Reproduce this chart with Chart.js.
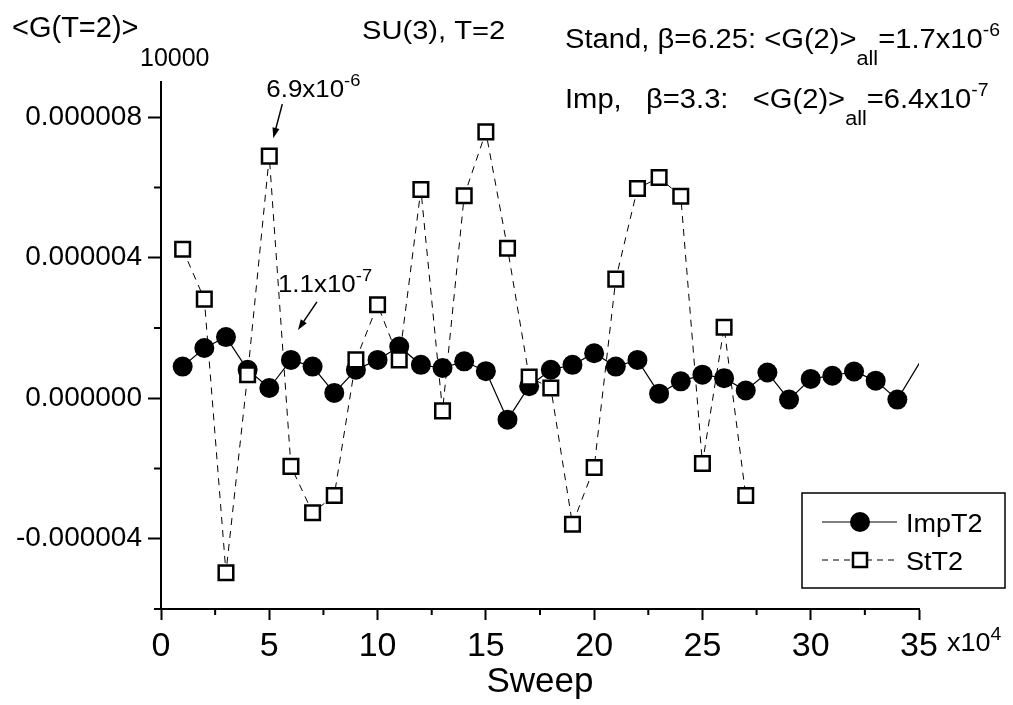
<!DOCTYPE html>
<html>
<head>
<meta charset="utf-8">
<title>G(T=2) vs sweep</title>
<script src="https://cdn.jsdelivr.net/npm/chart.js@4.4.1/dist/chart.umd.min.js"></script>
<style>
  html, body { margin: 0; padding: 0; background: #fff; }
  #wrap { width: 1013px; height: 705px; position: relative; }
</style>
</head>
<body>
<div id="wrap"><canvas id="chart" width="1013" height="705"></canvas></div>
<script>
// sweep numbers, in units of 10^4
const impSweeps = [1, 2, 3, 4, 5, 6, 7, 8, 9, 10, 11, 12, 13, 14, 15, 16, 17,
  18, 19, 20, 21, 22, 23, 24, 25, 26, 27, 28, 29, 30, 31, 32, 33, 34, 36];
const impT2 = [0.90e-6, 1.43e-6, 1.74e-6, 0.81e-6, 0.29e-6, 1.09e-6, 0.90e-6,
  0.15e-6, 0.81e-6, 1.09e-6, 1.47e-6, 0.95e-6, 0.86e-6, 1.05e-6, 0.77e-6,
  -0.61e-6, 0.34e-6, 0.81e-6, 0.95e-6, 1.28e-6, 0.90e-6, 1.09e-6, 0.13e-6,
  0.48e-6, 0.67e-6, 0.57e-6, 0.22e-6, 0.73e-6, -0.04e-6, 0.55e-6, 0.64e-6,
  0.76e-6, 0.50e-6, -0.04e-6, 2.0e-6];

const stSweeps = [1, 2, 3, 4, 5, 6, 7, 8, 9, 10, 11, 12, 13, 14, 15, 16, 17,
  18, 19, 20, 21, 22, 23, 24, 25, 26, 27];
const stT2 = [4.24e-6, 2.82e-6, -4.97e-6, 0.67e-6, 6.89e-6, -1.94e-6, -3.26e-6,
  -2.77e-6, 1.09e-6, 2.66e-6, 1.09e-6, 5.94e-6, -0.36e-6, 5.76e-6, 7.58e-6,
  4.27e-6, 0.60e-6, 0.29e-6, -3.59e-6, -1.97e-6, 3.39e-6, 5.97e-6, 6.28e-6,
  5.75e-6, -1.86e-6, 2.02e-6, -2.77e-6];

const xTickLabels = ['0', '5', '10', '15', '20', '25', '30', '35'];
const yTickLabels = ['-0.000004', '0.000000', '0.000004', '0.000008'];

const SANS = '"Liberation Sans", Arial, sans-serif';

/**
 * Draw a run of text pieces (normal / sub / sup) starting at x, y baseline
 */
function drawRich(ctx, x, y, parts, sx) {
  ctx.save();
  ctx.translate(x, y);
  ctx.scale(sx || 1, 1);
  ctx.fillStyle = '#000';
  ctx.textBaseline = 'alphabetic';
  ctx.textAlign = 'left';
  let cx = 0;
  parts.forEach(p => {
    ctx.font = `${p.size}px ${SANS}`;
    ctx.fillText(p.t, cx, p.dy || 0);
    cx += ctx.measureText(p.t).width;
  });
  ctx.restore();
}

function arrow(ctx, x1, y1, x2, y2) {
  const ang = Math.atan2(y2 - y1, x2 - x1);
  const head = 11;
  ctx.save();
  ctx.strokeStyle = '#000';
  ctx.fillStyle = '#000';
  ctx.lineWidth = 1.5;
  ctx.beginPath();
  ctx.moveTo(x1, y1);
  ctx.lineTo(x2 - Math.cos(ang) * head * 0.8, y2 - Math.sin(ang) * head * 0.8);
  ctx.stroke();
  ctx.beginPath();
  ctx.moveTo(x2, y2);
  ctx.lineTo(x2 - head * Math.cos(ang - 0.33), y2 - head * Math.sin(ang - 0.33));
  ctx.lineTo(x2 - head * Math.cos(ang + 0.33), y2 - head * Math.sin(ang + 0.33));
  ctx.closePath();
  ctx.fill();
  ctx.restore();
}

// texts, arrows, minor ticks and the legend box
const decorations = {
  id: 'decorations',
  afterDraw(chart) {
    const ctx = chart.ctx;
    const xs = chart.scales.x;
    const ys = chart.scales.y;
    const area = chart.chartArea;

    // minor ticks
    ctx.save();
    ctx.strokeStyle = '#000';
    ctx.lineWidth = 2;
    ctx.beginPath();
    for (let v = 2.5; v < 35; v += 5) {
      const px = xs.getPixelForValue(v);
      ctx.moveTo(px, area.bottom);
      ctx.lineTo(px, area.bottom + 6);
    }
    for (let v = -6e-6; v < 9e-6; v += 4e-6) {
      const py = ys.getPixelForValue(v);
      ctx.moveTo(area.left, py);
      ctx.lineTo(area.left - 7, py);
    }
    ctx.stroke();
    ctx.restore();

    // header texts
    drawRich(ctx, 12, 37, [{ t: '<G(T=2)>', size: 29 }]);
    drawRich(ctx, 140, 66, [{ t: '10000', size: 25 }]);
    drawRich(ctx, 362, 39, [{ t: 'SU(3), T=2', size: 26 }], 1.12);
    drawRich(ctx, 565, 48, [
      { t: 'Stand, \u03b2=6.25: <G(2)>', size: 27 },
      { t: 'all', size: 20, dy: 17 },
      { t: '=1.7x10', size: 27 },
      { t: '-6', size: 18, dy: -12 }
    ], 1.08);
    drawRich(ctx, 565, 108, [
      { t: 'Imp,   \u03b2=3.3:   <G(2)>', size: 27 },
      { t: 'all', size: 20, dy: 17 },
      { t: '=6.4x10', size: 27 },
      { t: '-7', size: 18, dy: -12 }
    ], 1.08);

    // x axis multiplier
    drawRich(ctx, 947, 651, [
      { t: 'x10', size: 25 },
      { t: '4', size: 18, dy: -11 }
    ], 1.08);

    // annotation for the StT2 peak
    const p5x = xs.getPixelForValue(stSweeps[4]);
    const p5y = ys.getPixelForValue(stT2[4]);
    drawRich(ctx, p5x - 3, p5y - 59, [
      { t: '6.9x10', size: 24 },
      { t: '-6', size: 17, dy: -11 }
    ], 1.08);
    arrow(ctx, p5x + 13, p5y - 52, p5x + 4, p5y - 18);

    // annotation near the ImpT2 point
    const p6x = xs.getPixelForValue(impSweeps[5]);
    const p6y = ys.getPixelForValue(impT2[5]);
    drawRich(ctx, p6x - 13, p6y - 68, [
      { t: '1.1x10', size: 24 },
      { t: '-7', size: 17, dy: -11 }
    ], 1.08);
    arrow(ctx, p6x + 26, p6y - 58, p6x + 7, p6y - 30);

    // legend
    ctx.save();
    ctx.strokeStyle = '#000';
    ctx.lineWidth = 1.5;
    ctx.strokeRect(802, 493, 203, 95);
    ctx.lineWidth = 1;
    ctx.beginPath();
    ctx.moveTo(822, 522);
    ctx.lineTo(897, 522);
    ctx.stroke();
    ctx.beginPath();
    ctx.arc(860, 522, 10, 0, Math.PI * 2);
    ctx.fillStyle = '#000';
    ctx.fill();
    ctx.setLineDash([6, 5]);
    ctx.beginPath();
    ctx.moveTo(822, 560);
    ctx.lineTo(897, 560);
    ctx.stroke();
    ctx.setLineDash([]);
    ctx.fillStyle = '#fff';
    ctx.fillRect(853, 553, 14, 14);
    ctx.lineWidth = 2.5;
    ctx.strokeRect(853, 553, 14, 14);
    ctx.restore();
    drawRich(ctx, 906, 532, [{ t: 'ImpT2', size: 26 }], 1.04);
    drawRich(ctx, 906, 570, [{ t: 'StT2', size: 26 }], 1.04);
  }
};

const impPoints = impSweeps.map((s, i) => ({ x: s, y: impT2[i] }));
const stPoints = stSweeps.map((s, i) => ({ x: s, y: stT2[i] }));

new Chart(document.getElementById('chart'), {
  type: 'line',
  data: {
    datasets: [
      {
        label: 'ImpT2',
        data: impPoints,
        order: 1,
        borderColor: '#000',
        borderWidth: 1.2,
        backgroundColor: '#000',
        pointStyle: 'circle',
        pointRadius: 10,
        pointBorderWidth: 0,
        pointBackgroundColor: '#000',
        tension: 0
      },
      {
        label: 'StT2',
        data: stPoints,
        order: 0,
        borderColor: '#000',
        borderWidth: 1,
        borderDash: [7, 6],
        pointStyle: 'rect',
        pointRadius: 10.3,
        pointBorderWidth: 2.5,
        pointBorderColor: '#000',
        pointBackgroundColor: '#fff',
        tension: 0
      }
    ]
  },
  options: {
    responsive: false,
    animation: false,
    devicePixelRatio: 1,
    layout: { padding: { left: 0, top: 82, right: 94, bottom: 0 } },
    plugins: {
      legend: { display: false },
      tooltip: { enabled: false },
      title: { display: false }
    },
    scales: {
      x: {
        type: 'linear',
        min: 0,
        max: 35,
        afterFit: s => { s.height = 96; },
        border: { display: true, color: '#000', width: 2 },
        grid: {
          drawOnChartArea: false,
          drawTicks: true,
          tickLength: 11,
          tickWidth: 2,
          tickColor: c => (c.tick && c.tick.value % 5 === 0) ? '#000' : 'rgba(0,0,0,0)'
        },
        ticks: {
          stepSize: 2.5,
          autoSkip: false,
          maxRotation: 0,
          padding: 6,
          color: '#000',
          font: { family: SANS, size: 34 },
          callback: v => (v % 5 === 0 ? xTickLabels[v / 5] : '')
        },
        title: {
          display: true,
          text: 'Sweep',
          color: '#000',
          font: { family: SANS, size: 35 },
          padding: { top: 0, bottom: 2 }
        }
      },
      y: {
        type: 'linear',
        min: -6e-6,
        max: 9e-6,
        afterFit: s => { s.width = 161; },
        border: { display: true, color: '#000', width: 2 },
        grid: {
          drawOnChartArea: false,
          drawTicks: true,
          tickLength: 13,
          tickWidth: 2,
          tickColor: c => {
            const k = c.tick ? Math.round(c.tick.value * 1e6) : 1;
            return k % 4 === 0 ? '#000' : 'rgba(0,0,0,0)';
          }
        },
        ticks: {
          stepSize: 2e-6,
          includeBounds: false,
          autoSkip: false,
          padding: 6,
          color: '#000',
          font: { family: SANS, size: 28 },
          callback: v => {
            const k = Math.round(v * 1e6);
            return k % 4 === 0 ? yTickLabels[(k + 4) / 4] : '';
          }
        }
      }
    }
  },
  plugins: [decorations]
});
</script>
</body>
</html>
